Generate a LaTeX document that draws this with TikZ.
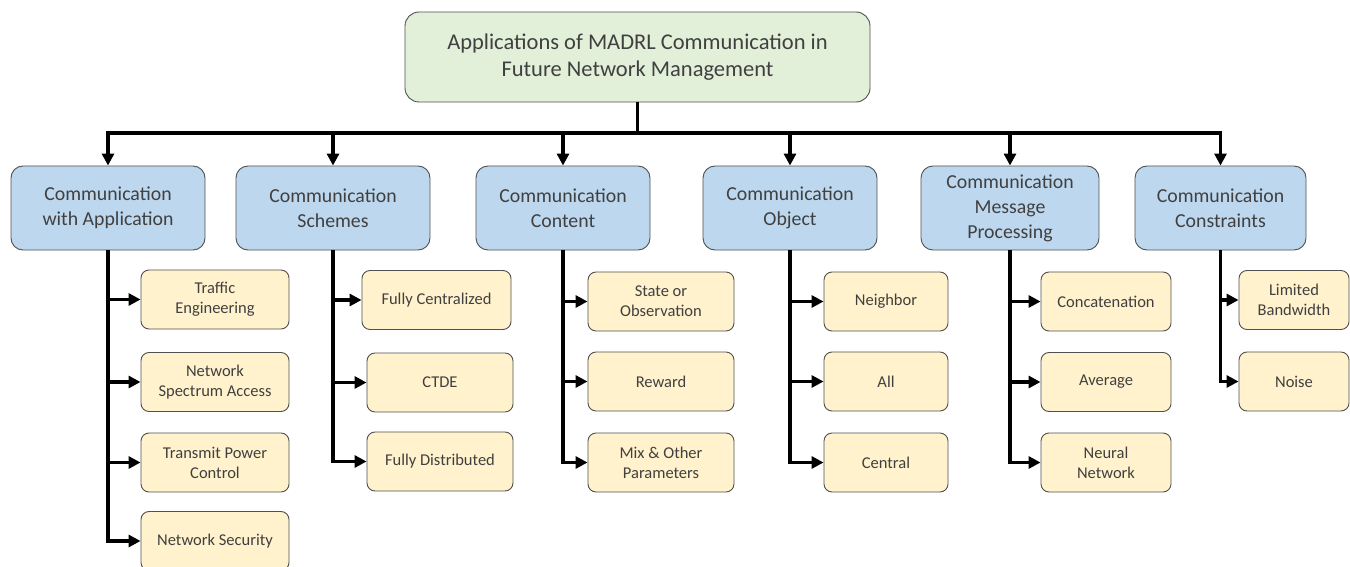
\documentclass[tikz,border=0pt]{standalone}
\usepackage{fontspec}
\setmainfont{Carlito}
\usetikzlibrary{arrows.meta,positioning,calc}

\definecolor{rootfill}{HTML}{E2F0D9}
\definecolor{catfill}{HTML}{BDD7EE}
\definecolor{leaffill}{HTML}{FFF2CC}
\definecolor{edgegray}{HTML}{505050}
\definecolor{txtgray}{HTML}{404040}

\begin{document}
\begin{tikzpicture}[
  x=1pt, y=-1pt,
  base/.style={draw=edgegray, line width=0.9pt, text=txtgray, align=center, inner sep=0pt},
  rootbox/.style={base, fill=rootfill, rounded corners=14pt, minimum width=465pt, minimum height=90pt, font=\fontsize{22.5}{27}\selectfont},
  catbox/.style={base, fill=catfill, rounded corners=12pt, minimum height=84pt, font=\fontsize{19.8}{25}\selectfont},
  leafbox/.style={base, fill=leaffill, rounded corners=8pt, minimum height=59pt, font=\fontsize{16.5}{20}\selectfont},
  link/.style={line width=3.8pt},
  >={Triangle[length=12pt,width=12pt]}
]
  \useasboundingbox (0,0) rectangle (1350,567);

  % Root
  \node[rootbox] (root) at (637.5,57) {Applications of MADRL Communication in\\Future Network Management};

  % Categories
  \node[catbox, minimum width=194pt] (catApp) at (108,208) {Communication\\with Application};
  \node[catbox, minimum width=194pt] (catScheme) at (333,208) {Communication\\Schemes};
  \node[catbox, minimum width=174pt] (catContent) at (563,208) {Communication\\Content};
  \node[catbox, minimum width=174pt] (catObject) at (790,208) {Communication\\Object};
  \node[catbox, minimum width=178pt] (catProc) at (1010,208) {Communication\\Message\\Processing};
  \node[catbox, minimum width=171pt] (catCons) at (1220.5,208) {Communication\\Constraints};

  % Leaves
  \node[leafbox, minimum width=148pt] (traffic) at (215,299.5) {Traffic\\Engineering};
  \node[leafbox, minimum width=148pt] (spectrum) at (215,382) {Network\\Spectrum Access};
  \node[leafbox, minimum width=148pt] (power) at (215,462.5) {Transmit Power\\Control};
  \node[leafbox, minimum width=148pt] (security) at (215,541) {Network Security};

  \node[leafbox, minimum width=149pt] (fullcen) at (436.5,300) {Fully Centralized};
  \node[leafbox, minimum width=146pt] (ctde) at (440,382.5) {CTDE};
  \node[leafbox, minimum width=146pt] (fulldis) at (440,461.5) {Fully Distributed};

  \node[leafbox, minimum width=146pt] (state) at (661,301.5) {State or\\Observation};
  \node[leafbox, minimum width=146pt] (reward) at (661,381.5) {Reward};
  \node[leafbox, minimum width=146pt] (mix) at (661,462.5) {Mix \& Other\\Parameters};

  \node[leafbox, minimum width=124pt] (neighbor) at (886,301.5) {Neighbor};
  \node[leafbox, minimum width=124pt] (all) at (886,381.5) {All};
  \node[leafbox, minimum width=124pt] (central) at (886,462.5) {Central};

  \node[leafbox, minimum width=130pt] (concat) at (1106,301.5) {Concatenation};
  \node[leafbox, minimum width=130pt] (average) at (1106,382) {Average};
  \node[leafbox, minimum width=130pt] (neural) at (1106,462.5) {Neural\\Network};

  \node[leafbox, minimum width=110pt] (bandwidth) at (1294,300) {Limited\\Bandwidth};
  \node[leafbox, minimum width=110pt] (noise) at (1294,381.5) {Noise};

  % Bus
  \coordinate (bus) at (637.5,133);
  \draw[link] (root.south) -- (bus);
  \draw[link,->] (bus) -| (catApp.north);
  \draw[link,->] (bus) -| (catCons.north);
  \draw[link,->] (bus -| catScheme.north) -- (catScheme.north);
  \draw[link,->] (bus -| catContent.north) -- (catContent.north);
  \draw[link,->] (bus -| catObject.north) -- (catObject.north);
  \draw[link,->] (bus -| catProc.north) -- (catProc.north);

  % Branches
  \draw[link,->] (catApp.south) |- (traffic.west);
  \draw[link,->] (catApp.south) |- (spectrum.west);
  \draw[link,->] (catApp.south) |- (power.west);
  \draw[link,->] (catApp.south) |- (security.west);

  \draw[link,->] (catScheme.south) |- (fullcen.west);
  \draw[link,->] (catScheme.south) |- (ctde.west);
  \draw[link,->] (catScheme.south) |- (fulldis.west);

  \draw[link,->] (catContent.south) |- (state.west);
  \draw[link,->] (catContent.south) |- (reward.west);
  \draw[link,->] (catContent.south) |- (mix.west);

  \draw[link,->] (catObject.south) |- (neighbor.west);
  \draw[link,->] (catObject.south) |- (all.west);
  \draw[link,->] (catObject.south) |- (central.west);

  \draw[link,->] (catProc.south) |- (concat.west);
  \draw[link,->] (catProc.south) |- (average.west);
  \draw[link,->] (catProc.south) |- (neural.west);

  \draw[link,->] (catCons.south) |- (bandwidth.west);
  \draw[link,->] (catCons.south) |- (noise.west);
\end{tikzpicture}
\end{document}
